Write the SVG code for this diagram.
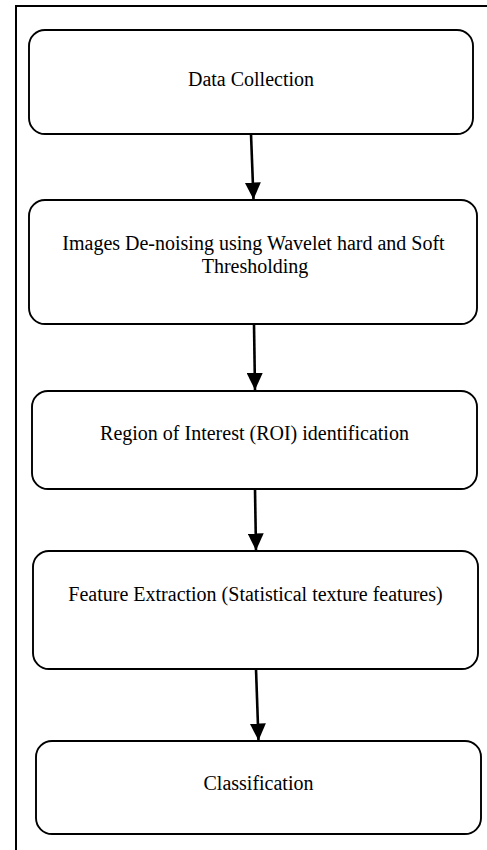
<svg xmlns="http://www.w3.org/2000/svg" width="487" height="850" viewBox="0 0 487 850">
  <style>
    .frame { fill: none; stroke: #000; stroke-width: 2; }
    .box { fill: #fff; stroke: #000; stroke-width: 1.9; }
    .label { font-family: "Liberation Serif", "Times New Roman", serif; font-size: 20px; fill: #000; text-anchor: middle; }
    .flow { fill: none; stroke: #000; stroke-width: 2.6; }
  </style>
  <defs>
    <marker id="arrowhead" viewBox="0 0 17 16" refX="17" refY="8" markerUnits="userSpaceOnUse" markerWidth="17" markerHeight="16" orient="auto">
      <path d="M0,0 L17,8 L0,16 Z" fill="#000"/>
    </marker>
  </defs>

  <rect width="487" height="850" fill="#fff"/>

  <!-- page frame: top and left rules -->
  <path class="frame" d="M16,850 L16,6 L487,6"/>

  <g id="node-data-collection">
    <rect class="box" x="29" y="30" width="444" height="104" rx="16" ry="16"/>
    <text class="label" x="251" y="86">Data Collection</text>
  </g>

  <g id="node-denoising">
    <rect class="box" x="29" y="200" width="448" height="124" rx="16" ry="16"/>
    <text class="label" x="253.5" y="250">Images De-noising using Wavelet hard and Soft</text>
    <text class="label" x="255" y="273">Thresholding</text>
  </g>

  <g id="node-roi">
    <rect class="box" x="32" y="391" width="445" height="98" rx="16" ry="16"/>
    <text class="label" x="254.5" y="440">Region of Interest (ROI) identification</text>
  </g>

  <g id="node-features">
    <rect class="box" x="33" y="551" width="445" height="118" rx="16" ry="16"/>
    <text class="label" x="255.5" y="601">Feature Extraction (Statistical texture features)</text>
  </g>

  <g id="node-classification">
    <rect class="box" x="36" y="741" width="445" height="93" rx="16" ry="16"/>
    <text class="label" x="258.5" y="790">Classification</text>
  </g>

  <g id="connectors">
    <path class="flow" d="M251,134 L253.5,199.5" marker-end="url(#arrowhead)"/>
    <path class="flow" d="M254,324 L255,390" marker-end="url(#arrowhead)"/>
    <path class="flow" d="M255,489 L256,550.5" marker-end="url(#arrowhead)"/>
    <path class="flow" d="M256,669 L258.5,740.5" marker-end="url(#arrowhead)"/>
  </g>
</svg>
